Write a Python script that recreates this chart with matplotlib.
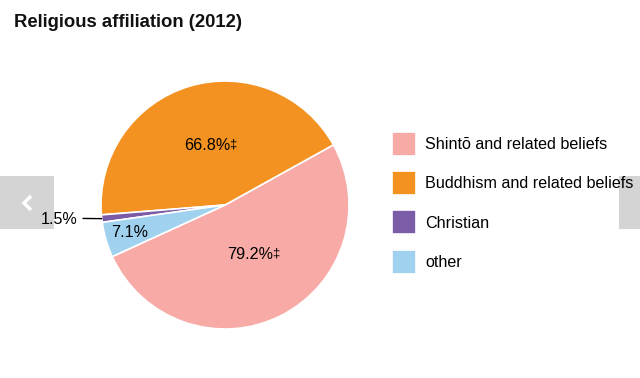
import numpy as np
import matplotlib
matplotlib.use("Agg")
import matplotlib.pyplot as plt
from matplotlib.patches import Rectangle
from matplotlib.lines import Line2D

plt.rcParams['font.family'] = ['Liberation Sans', 'DejaVu Sans']

# data, in legend order
religions = ["Shintō and related beliefs", "Buddhism and related beliefs", "Christian", "other"]
shares = [79.2, 66.8, 1.5, 7.1]
share_labels = ["79.2%", "66.8%", "1.5%", "7.1%"]
footnote = ["‡", "‡", "", ""]  # marks shares that overlap (sum > 100)
colors = ["#f7aaa6", "#f39220", "#7b5ca7", "#a0d1ee"]

W, H = 640, 378
fig = plt.figure(figsize=(W / 100, H / 100), dpi=100)

# pie centre (225, 205) px, radius 124 px
cx, cy, r = 225, 205, 124
ax = fig.add_axes([(cx - r) / W, (H - cy - r) / H, 2 * r / W, 2 * r / H])

wedges, _ = ax.pie(shares, colors=colors, startangle=-155.4, counterclock=True,
                   wedgeprops=dict(edgecolor="white", linewidth=1.2))
ax.set_xlim(-1, 1)
ax.set_ylim(-1, 1)
ax.set_aspect("equal")

# label distance per slice (Christian goes outside)
dist = [0.45, 0.5, None, 0.8]
for w, lab, fn, d in zip(wedges, share_labels, footnote, dist):
    mid = np.deg2rad((w.theta1 + w.theta2) / 2)
    if d is None:
        edge = (np.cos(mid), np.sin(mid))
        ax.annotate(lab, xy=edge, xytext=(-1.19, -0.12), ha="right", va="center",
                    fontsize=11.6, color="black",
                    arrowprops=dict(arrowstyle="-", color="black", lw=1,
                                    shrinkA=2, shrinkB=0, relpos=(1, 0.6)))
        continue
    t = ax.text(d * np.cos(mid), d * np.sin(mid), lab, ha="center", va="center",
                fontsize=11.6, color="black")
    if fn:
        ax.annotate(fn, xy=(1, 1), xycoords=t, xytext=(-0.5, 0), textcoords="offset points",
                    ha="left", va="top", fontsize=9.5, color="black")

# legend
fig.legend(wedges, religions, loc="upper left", bbox_to_anchor=(392 / W, 1 - 132 / H),
           frameon=False, fontsize=11.6, handlelength=1.5, handleheight=1.92,
           handletextpad=0.55, labelspacing=0.94, borderpad=0, borderaxespad=0)

# title
fig.text(14 / W, 1 - 27 / H, "Religious affiliation (2012)", fontsize=13.3,
         fontweight="bold", va="baseline", ha="left", color="#111111")

# carousel buttons from the page
fig.add_artist(Rectangle((0, 1 - 229 / H), 54 / W, 53 / H, transform=fig.transFigure,
                         facecolor="#d4d4d4", edgecolor="none", zorder=-1))
fig.add_artist(Rectangle((619 / W, 1 - 229 / H), 21 / W, 53 / H, transform=fig.transFigure,
                         facecolor="#d4d4d4", edgecolor="none", zorder=-1))
fig.add_artist(Line2D([31 / W, 24 / W, 31 / W], [1 - 196 / H, 1 - 203 / H, 1 - 210 / H],
                      transform=fig.transFigure, color="white", lw=2.5,
                      solid_capstyle="butt", solid_joinstyle="miter"))

fig.savefig("out.png", dpi=100)
